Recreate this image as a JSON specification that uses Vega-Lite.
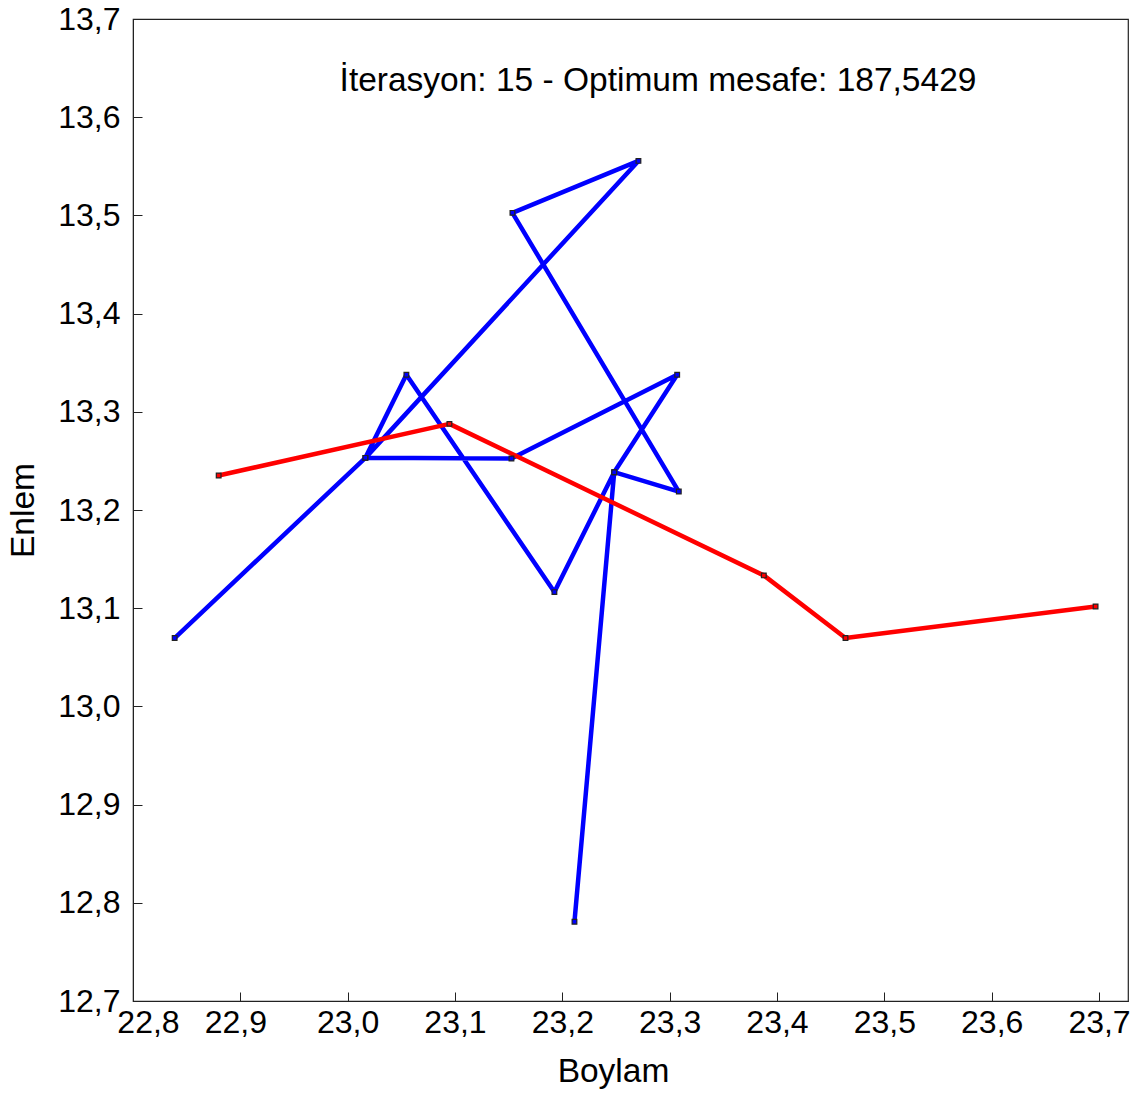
{
  "$schema": "https://vega.github.io/schema/vega-lite/v6.json",
  "width": 995,
  "height": 982,
  "autosize": "none",
  "padding": {"left": 133, "top": 19, "right": 3, "bottom": 92},
  "background": "white",
  "config": {
    "font": "Liberation Sans",
    "view": {"stroke": "#222222", "strokeWidth": 1.2},
    "axis": {
      "grid": false,
      "domainColor": "#222222",
      "tickColor": "#222222",
      "labelColor": "black",
      "titleColor": "black",
      "labelFont": "Liberation Sans",
      "titleFont": "Liberation Sans",
      "labelFontSize": 32,
      "titleFontSize": 33.5,
      "titleFontWeight": "normal",
      "tickSize": -9,
      "labelOverlap": false,
      "labelFlush": false
    }
  },
  "datasets": {
    "rotalar": [
      {"rota": "mevcut", "i": 1, "lon": 22.8388, "lat": 13.0696},
      {"rota": "mevcut", "i": 2, "lon": 23.0165, "lat": 13.2531},
      {"rota": "mevcut", "i": 3, "lon": 23.2709, "lat": 13.5555},
      {"rota": "mevcut", "i": 4, "lon": 23.1535, "lat": 13.5026},
      {"rota": "mevcut", "i": 5, "lon": 23.3085, "lat": 13.2188},
      {"rota": "mevcut", "i": 6, "lon": 23.2483, "lat": 13.2385},
      {"rota": "mevcut", "i": 7, "lon": 23.3070, "lat": 13.3378},
      {"rota": "mevcut", "i": 8, "lon": 23.1526, "lat": 13.2524},
      {"rota": "mevcut", "i": 9, "lon": 23.0165, "lat": 13.2531},
      {"rota": "mevcut", "i": 10, "lon": 23.0547, "lat": 13.3378},
      {"rota": "mevcut", "i": 11, "lon": 23.1926, "lat": 13.1164},
      {"rota": "mevcut", "i": 12, "lon": 23.2483, "lat": 13.2385},
      {"rota": "mevcut", "i": 13, "lon": 23.2113, "lat": 12.7807},
      {"rota": "optimum", "i": 1, "lon": 22.8798, "lat": 13.2351},
      {"rota": "optimum", "i": 2, "lon": 23.0948, "lat": 13.2877},
      {"rota": "optimum", "i": 3, "lon": 23.3877, "lat": 13.1334},
      {"rota": "optimum", "i": 4, "lon": 23.4638, "lat": 13.0696},
      {"rota": "optimum", "i": 5, "lon": 23.6968, "lat": 13.1018}
    ],
    "baslik": [
      {"etiket": "İterasyon: 15 - Optimum mesafe: 187,5429", "lon": 23.2891, "lat": 13.6268}
    ]
  },
  "layer": [
    {
      "data": {"name": "rotalar"},
      "encoding": {
        "x": {
          "field": "lon", "type": "quantitative",
          "scale": {"domain": [22.8, 23.727], "nice": false, "zero": false},
          "axis": {
            "title": "Boylam",
            "values": [22.8, 22.9, 23.0, 23.1, 23.2, 23.3, 23.4, 23.5, 23.6, 23.7],
            "labelExpr": "replace(format(datum.value, '.1f'), '.', ',')",
            "labelPadding": 15,
            "labelOffset": {"expr": "datum.value < 22.85 ? 15 : (datum.value < 22.95 ? -5 : 0)"},
            "titlePadding": 17,
            "titleX": 480,
            "titleAlign": "center"
          }
        },
        "y": {
          "field": "lat", "type": "quantitative",
          "scale": {"domain": [12.7, 13.7], "nice": false, "zero": false},
          "axis": {
            "title": "Enlem",
            "values": [12.7, 12.8, 12.9, 13.0, 13.1, 13.2, 13.3, 13.4, 13.5, 13.6, 13.7],
            "labelExpr": "replace(format(datum.value, '.1f'), '.', ',')",
            "labelPadding": 22,
            "titlePadding": 17
          }
        },
        "color": {
          "field": "rota", "type": "nominal",
          "scale": {"domain": ["mevcut", "optimum"], "range": ["#0000ff", "#ff0000"]},
          "legend": null
        },
        "order": {"field": "i", "type": "quantitative"}
      },
      "layer": [
        {
          "transform": [{"filter": "datum.rota === 'mevcut'"}],
          "mark": {"type": "line", "strokeWidth": 4.5, "strokeJoin": "round"}
        },
        {
          "transform": [{"filter": "datum.rota === 'optimum'"}],
          "mark": {"type": "line", "strokeWidth": 4.5, "strokeJoin": "round"}
        },
        {
          "mark": {"type": "point", "shape": "square", "size": 22, "filled": true, "stroke": "#222222", "strokeWidth": 1.2, "opacity": 1}
        }
      ]
    },
    {
      "data": {"name": "baslik"},
      "mark": {"type": "text", "fontSize": 33.5, "font": "Liberation Sans", "color": "black", "align": "center", "baseline": "alphabetic"},
      "encoding": {
        "text": {"field": "etiket", "type": "nominal"},
        "x": {"field": "lon", "type": "quantitative"},
        "y": {"field": "lat", "type": "quantitative"}
      }
    }
  ]
}
